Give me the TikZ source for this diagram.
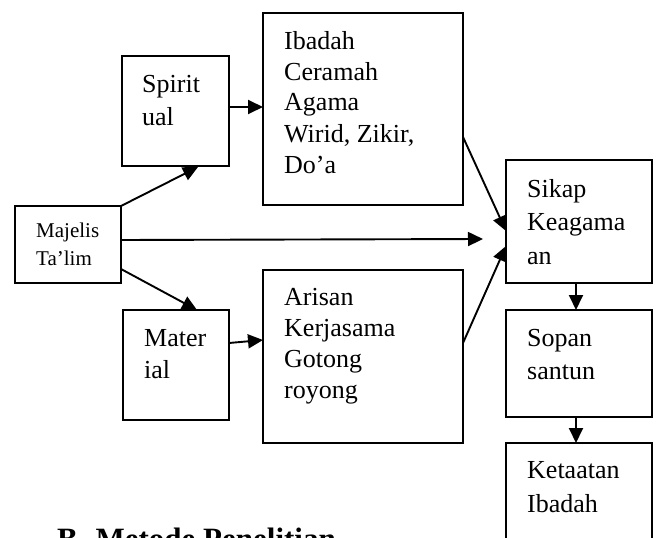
\documentclass[tikz,border=0pt]{standalone}
\usepackage{fontspec}
\setmainfont{Liberation Serif}
\usetikzlibrary{arrows.meta}
\newcommand\stk[2]{\vtop{\baselineskip=#1\relax\lineskiplimit=-100pt\halign{##\hfil\cr#2\crcr}}}
\begin{document}
\begin{tikzpicture}[x=1pt,y=-1pt,
  box/.style={draw,line width=1.3pt,anchor=north west,inner sep=0pt,outer sep=0pt},
  txt/.style={anchor=base west,inner sep=0pt,font=\fontsize{26}{32}\selectfont},
  arr/.style={line width=1.9pt,-{Triangle[length=15pt,width=14pt]}}]
\clip (0,0) rectangle (657,538);
\useasboundingbox (0,0) rectangle (657,538);
% boxes
\node[box,minimum width=106pt,minimum height=77pt] (maj) at (15,206) {};
\node[box,minimum width=107pt,minimum height=110pt] (sp) at (122,56) {};
\node[box,minimum width=200pt,minimum height=192pt] (ib) at (263,13) {};
\node[box,minimum width=106pt,minimum height=110pt] (mat) at (123,310) {};
\node[box,minimum width=200pt,minimum height=173pt] (ar) at (263,270) {};
\node[box,minimum width=146pt,minimum height=123pt] (sk) at (506,160) {};
\node[box,minimum width=146pt,minimum height=107pt] (so) at (506,310) {};
\node[box,minimum width=146pt,minimum height=140pt] (ke) at (506,443) {};
% texts
\node[txt,font=\fontsize{21}{28}\selectfont] (majT) at (36,237) {\stk{28pt}{Majelis\cr Ta’lim}};
\node[txt] (spT) at (142,92) {\stk{33pt}{Spirit\cr ual}};
\node[txt] (ibT) at (284,49) {\stk{31pt}{Ibadah\cr Ceramah\cr Agama\cr Wirid, Zikir,\cr Do’a}};
\node[txt] (matT) at (144,346) {\stk{32pt}{Mater\cr ial}};
\node[txt] (arT) at (284,305) {\stk{31pt}{Arisan\cr Kerjasama\cr Gotong\cr royong}};
\node[txt] (skT) at (527,197) {\stk{33.5pt}{Sikap\cr Keagama\cr an}};
\node[txt] (soT) at (527,346) {\stk{33.5pt}{Sopan\cr santun}};
\node[txt] (keT) at (527,478) {\stk{34pt}{Ketaatan\cr Ibadah}};
\node[anchor=base west,inner sep=0pt,font=\fontsize{31}{36}\selectfont\bfseries] (head) at (57,549) {B.\hspace{10pt}Metode Penelitian};
% connector endpoints
\coordinate (a1) at (198,167);
\coordinate (a2s) at (229,107);
\coordinate (a2e) at (263,107);
\coordinate (a3s) at (121,240);
\coordinate (a3e) at (483,239);
\coordinate (a4s) at (121,269);
\coordinate (a4e) at (197,310);
\coordinate (a5s) at (229,343);
\coordinate (a5e) at (263,340);
\coordinate (a6s) at (463,137);
\coordinate (a6e) at (506,231);
\coordinate (a7s) at (463,343);
\coordinate (a7e) at (506,246);
% connectors
\draw[arr] (maj.north east) -- (a1);
\draw[arr] (a2s) -- (a2e);
\draw[arr] (a3s) -- (a3e);
\draw[arr] (a4s) -- (a4e);
\draw[arr] (a5s) -- (a5e);
\draw[arr] (a6s) -- (a6e);
\draw[arr] (a7s) -- (a7e);
\draw[arr] (sk.south west) ++(70,0) -- ++(0,27);
\draw[arr] (so.south west) ++(70,0) -- ++(0,26);
\end{tikzpicture}
\end{document}
